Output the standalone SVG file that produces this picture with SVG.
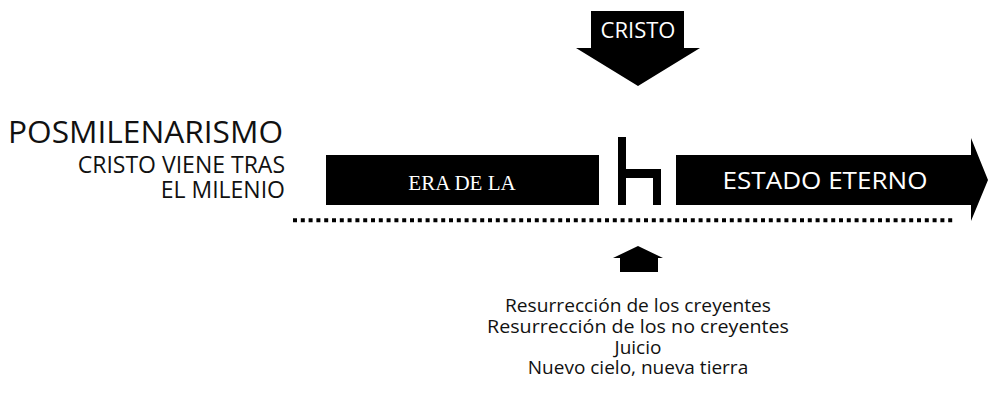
<svg xmlns="http://www.w3.org/2000/svg" width="988" height="399" viewBox="0 0 988 399">
<style>
.sans{font-family:"Open Sans","Noto Sans","Liberation Sans",sans-serif;}
.serif{font-family:"Liberation Serif","DejaVu Serif",serif;}
.blk{fill:#000;}
.wt{fill:#fff;}
.ev{font-size:19px;fill:#111;text-anchor:middle;}
</style>
<rect width="988" height="399" fill="#fff"/>
<g id="title">
<text class="sans" x="8" y="143" font-size="31" fill="#111" textLength="275" lengthAdjust="spacingAndGlyphs">POSMILENARISMO</text>
<text class="sans" x="285" y="173" font-size="23" fill="#111" text-anchor="end">CRISTO VIENE TRAS</text>
<text class="sans" x="285" y="198" font-size="23" fill="#111" text-anchor="end">EL MILENIO</text>
</g>
<g id="cristo">
<polygon class="blk" points="591,11 684,11 684,48 700,48 638,86 576,48 591,48"/>
<text class="sans wt" x="638" y="38" font-size="22" text-anchor="middle">CRISTO</text>
</g>
<g id="era">
<rect class="blk" x="326" y="155" width="273" height="50"/>
<text class="serif wt" x="462" y="190" font-size="21" text-anchor="middle">ERA DE LA</text>
</g>
<g id="marker-h">
<path class="blk" d="M618,137 H626 V169 H661 V205 H653 V178 H626 V205 H618 Z"/>
</g>
<g id="estado">
<polygon class="blk" points="676,155 971,155 971,138 988,180 971,221 971,205 676,205"/>
<text class="sans wt" x="825" y="189" font-size="23" text-anchor="middle" textLength="205" lengthAdjust="spacingAndGlyphs">ESTADO ETERNO</text>
</g>
<g id="connectors">
<line x1="293" y1="220.3" x2="955" y2="220.3" stroke="#000" stroke-width="4" stroke-dasharray="4 3.8"/>
</g>
<g id="up-arrow">
<polygon class="blk" points="638,246 663,258 658,258 658,272 620,272 620,258 613,258"/>
</g>
<g id="events">
<text class="sans ev" x="638" y="312" textLength="266" lengthAdjust="spacingAndGlyphs">Resurrección de los creyentes</text>
<text class="sans ev" x="638" y="333" textLength="302" lengthAdjust="spacingAndGlyphs">Resurrección de los no creyentes</text>
<text class="sans ev" x="638" y="353.5">Juicio</text>
<text class="sans ev" x="638" y="374">Nuevo cielo, nueva tierra</text>
</g>
</svg>
